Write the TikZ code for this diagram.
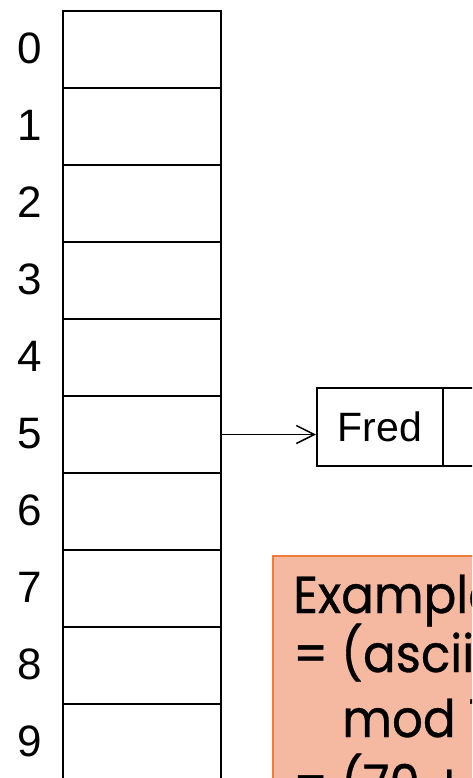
\documentclass[tikz,border=0pt]{standalone}
\usepackage{fontspec}
\setmainfont{Liberation Sans}
\newfontfamily\geofont[FakeStretch=0.93,FakeBold=0.6]{Poppins}
\usetikzlibrary{arrows.meta}
\definecolor{exfill}{HTML}{F5B8A0}
\definecolor{exborder}{HTML}{EE7D3A}
\tikzset{
  cell/.style={draw=black, line width=2pt, minimum width=158pt, minimum height=77pt, inner sep=0pt, anchor=north west},
  idx/.style={font=\fontsize{44}{52}\selectfont, inner sep=0pt},
  listcell/.style={draw=black, line width=2pt, minimum height=78pt, inner sep=0pt, anchor=north west, font=\fontsize{41}{49}\selectfont},
  extext/.style={font=\geofont\fontsize{52}{62}\selectfont, anchor=base west, inner sep=0pt},
}
\begin{document}
\begin{tikzpicture}[x=1pt,y=-1pt]
\useasboundingbox (0,0) rectangle (472,778);
\clip (0,0) rectangle (472,778);
\foreach \i in {0,...,9} {
  \node[cell] (c\i) at (62,{10+77*\i}) {};
  \node[idx] (l\i) at (30,{48.5+77*\i}) {\i};
}
\node[listcell, minimum width=126pt] (fred) at (316,387) {Fred};
\node[listcell, minimum width=80pt] (next) at (442,387) {};
\draw[line width=1.5pt, -{Straight Barb[length=18pt,width=18pt,line width=1.5pt]}] (c5.east) -- (c5.east -| fred.west);
\node[draw=exborder, fill=exfill, line width=1.5pt, minimum width=260pt, minimum height=260pt, anchor=north west, inner sep=0pt] (ex) at (272,555) {};
\node[extext] (t1) at (293,613) {Example: h(Fred)};
\node[extext] (t2) at (293,672) {= (ascii(F) + ...};
\node[extext] (t3) at (342,737) {mod 10};
\node[extext] (t4) at (293,802) {= (70 + ...};
\end{tikzpicture}
\end{document}
